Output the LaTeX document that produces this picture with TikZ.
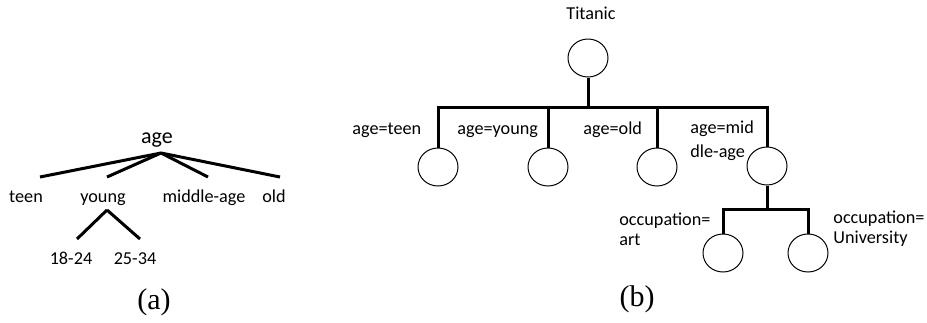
\documentclass[tikz,border=0pt]{standalone}
\usepackage{fontspec}
\setmainfont{Carlito}
\newfontfamily\capfont{Liberation Serif}
\usetikzlibrary{shapes.geometric, positioning}

\begin{document}
\begin{tikzpicture}[x=0.5pt, y=-0.5pt,
		lbl/.style={inner sep=0pt, font=\fontsize{9.1}{12}\selectfont},
		leaf/.style={ellipse, draw, line width=0.5pt, minimum width=20pt, minimum height=19pt, inner sep=0pt},
		branch/.style={line width=1.5pt},
		subcap/.style={inner sep=0pt, anchor=base, font=\capfont\fontsize{15}{17}\selectfont}
		]
	\useasboundingbox (0,0) rectangle (927,322);

	% Arbre (a)
	\node[lbl, anchor=base, font=\fontsize{11}{13}\selectfont] (age) at (157,143) {age};
	\node[lbl, anchor=base] (teen) at (26,202) {teen};
	\node[lbl, anchor=base] (young) at (103,202) {young};
	\node[lbl, anchor=base] (mid) at (204,202) {middle-age};
	\node[lbl, anchor=base] (old) at (274,202) {old};
	\node[lbl, anchor=base] (y1) at (71,264) {18-24};
	\node[lbl, anchor=base] (y2) at (135,264) {25-34};

	\coordinate (ageTop) at (161,153);
	\coordinate (teenEnd) at (40,177);
	\coordinate (youngEnd) at (107,177);
	\coordinate (midEnd) at (208,177);
	\coordinate (oldEnd) at (280,177);
	\coordinate (youngTop) at (107,210);
	\coordinate (y1End) at (77,239);
	\coordinate (y2End) at (140,239);

	\draw[branch] (ageTop) -- (teenEnd);
	\draw[branch] (ageTop) -- (youngEnd);
	\draw[branch] (ageTop) -- (midEnd);
	\draw[branch] (ageTop) -- (oldEnd);
	\draw[branch] (youngTop) -- (y1End);
	\draw[branch] (youngTop) -- (y2End);

	\node[subcap] (capA) at (154,309) {(a)};

	% Arbre (b)
	\node[lbl, anchor=base] (titanic) at (591,19) {Titanic};
	\node[leaf] (R) at (588,58) {};
	\node[leaf] (T) at (438,167) {};
	\node[leaf] (Y) at (548,167) {};
	\node[leaf] (O) at (657,167) {};
	\node[leaf] (M) at (767,166) {};
	\node[leaf] (A) at (723,253) {};
	\node[leaf] (U) at (808,253) {};

	\coordinate (jb) at (588,107);
	\coordinate (jo) at (767,209);

	\draw[branch] (R) -- (jb);
	\draw[branch] (T) |- (jb) -| (M);
	\draw[branch] (Y) -- (Y |- jb);
	\draw[branch] (O) -- (O |- jb);
	\draw[branch] (M) -- (jo);
	\draw[branch] (A) |- (jo) -| (U);

	\node[lbl, anchor=base west] (lT) at (352,134) {age=teen};
	\node[lbl, anchor=base west] (lY) at (457,134) {age=young};
	\node[lbl, anchor=base west] (lO) at (583,134) {age=old};
	\node[lbl, anchor=west, align=left] (lM) at (690,141) {age=mid\\dle-age};
	\node[lbl, anchor=west, align=left, font=\fontsize{9.1}{10}\selectfont] (lA) at (619,229) {occupation=\\art};
	\node[lbl, anchor=west, align=left, font=\fontsize{9.1}{10}\selectfont] (lU) at (833,229) {occupation=\\University};

	\node[subcap] (capB) at (637,306) {(b)};
\end{tikzpicture}
\end{document}
